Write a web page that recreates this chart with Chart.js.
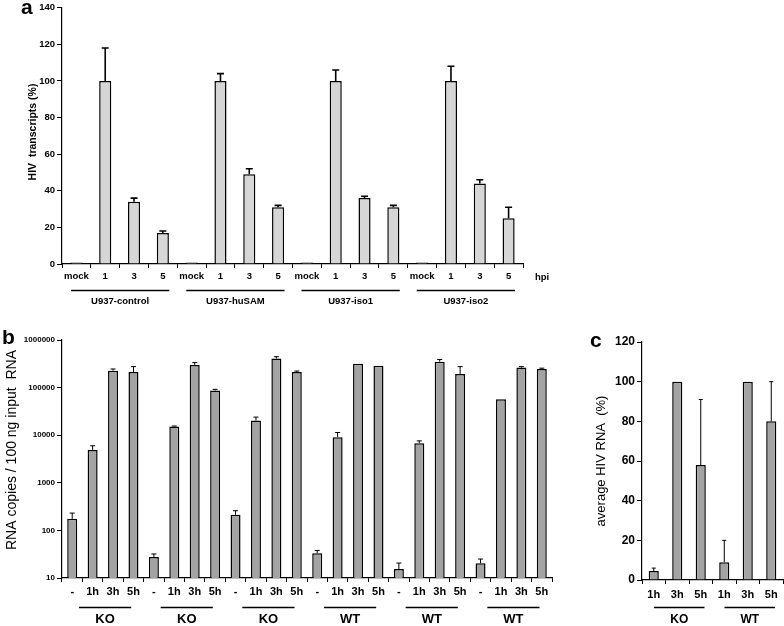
<!DOCTYPE html>
<html>
<head>
<meta charset="utf-8">
<script src="https://cdn.jsdelivr.net/npm/chart.js@4.4.0/dist/chart.umd.min.js"></script>
<style>
  body { margin: 0; background: #fff; width: 784px; height: 626px; overflow: hidden; position: relative; }
  canvas { position: absolute; }
</style>
</head>
<body>
<canvas id="chartA" width="600" height="320" style="left:0px;top:0px"></canvas>
<canvas id="chartB" width="590" height="296" style="left:0px;top:330px"></canvas>
<canvas id="chartC" width="194" height="296" style="left:590px;top:330px"></canvas>
<script>
// panel a - HIV transcripts (%)
const aLabels = ['mock', '1', '3', '5', 'mock', '1', '3', '5', 'mock', '1', '3', '5', 'mock', '1', '3', '5'];
const aGroups = ['U937-control', 'U937-huSAM', 'U937-iso1', 'U937-iso2'];
const aValues = [0.8, 100, 34, 17, 0.8, 100, 49, 31, 0.8, 100, 36, 31, 0.8, 100, 44, 25];
const aErrTop = [null, 118, 36, 18, null, 104, 52, 32, null, 106, 37, 32, null, 108, 46, 31];
const aTicks = [0, 20, 40, 60, 80, 100, 120, 140];

// panel b - RNA copies / 100 ng input RNA
const bLabels = ['-', '1h', '3h', '5h', '-', '1h', '3h', '5h', '-', '1h', '3h', '5h',
                 '-', '1h', '3h', '5h', '-', '1h', '3h', '5h', '-', '1h', '3h', '5h'];
const bGroups = ['KO', 'KO', 'KO', 'WT', 'WT', 'WT'];
const bValues = [176, 4900, 227000, 213000, 27.6, 15200, 300000, 87000, 213, 20300, 407000, 213000,
                 33, 9100, 318000, 289000, 15.4, 6800, 351000, 194000, 20.3, 56900, 263000, 246000];
const bErrTop = [231, 6000, 246000, 276000, 32, 15600, 335000, 92000, 259, 24000, 446000, 223000,
                 38, 11400, null, null, 20.6, 7600, 390000, 276000, 25, null, 276000, 256000];
const bTicks = [10, 100, 1000, 10000, 100000, 1000000];

// panel c - average HIV RNA (%)
const cLabels = ['1h', '3h', '5h', '1h', '3h', '5h'];
const cGroups = ['KO', 'WT'];
const cValues = [4.5, 100, 58, 9, 100, 80];
const cErrTop = [6, null, 91, 20, null, 100];
const cTicks = [0, 20, 40, 60, 80, 100, 120];

Chart.defaults.font.family = '"Liberation Sans", Arial, sans-serif';
Chart.defaults.color = '#000';
Chart.defaults.animation = false;

// error bars, group underlines, axis titles and panel letters
const decor = {
  id: 'decor',
  afterDatasetsDraw(chart, args, o) {
    const ctx = chart.ctx, xs = chart.scales.x, ys = chart.scales.y;
    const vals = chart.data.datasets[0].data;
    ctx.save();
    ctx.strokeStyle = '#000';
    ctx.lineWidth = o.errWidth;
    o.errors.forEach((e, i) => {
      if (e == null) return;
      const px = xs.getPixelForValue(i);
      const y0 = ys.getPixelForValue(vals[i]);
      const y1 = ys.getPixelForValue(e);
      ctx.beginPath();
      ctx.moveTo(px, y0);
      ctx.lineTo(px, y1);
      ctx.moveTo(px - o.cap, y1);
      ctx.lineTo(px + o.cap, y1);
      ctx.stroke();
    });
    ctx.restore();
  },
  afterDraw(chart, args, o) {
    const ctx = chart.ctx, xs = chart.scales.x;
    const n = chart.data.labels.length, w = xs.width / n;
    ctx.save();
    ctx.fillStyle = '#000';
    ctx.strokeStyle = '#000';
    ctx.lineWidth = 1.3;
    ctx.textAlign = 'center';
    ctx.textBaseline = 'middle';
    ctx.font = o.groupFont;
    o.groups.forEach((g, k) => {
      const l = xs.left + k * o.size * w + o.insetL;
      const r = xs.left + (k + 1) * o.size * w - o.insetR;
      ctx.beginPath();
      ctx.moveTo(l, o.lineY);
      ctx.lineTo(r, o.lineY);
      ctx.stroke();
      ctx.fillText(g, (l + r) / 2, o.textY);
    });
    // panel letter
    ctx.font = 'bold 21px "Liberation Sans", Arial, sans-serif';
    ctx.textAlign = 'left';
    ctx.textBaseline = 'alphabetic';
    ctx.fillText(o.letter[0], o.letter[1], o.letter[2]);
    // extra text (hpi)
    if (o.extra) {
      ctx.font = o.extra[3];
      ctx.textBaseline = 'middle';
      ctx.fillText(o.extra[0], o.extra[1], o.extra[2]);
    }
    // rotated y title
    ctx.translate(o.title[1], o.title[2]);
    ctx.rotate(-Math.PI / 2);
    ctx.font = o.title[3];
    ctx.textAlign = 'center';
    ctx.textBaseline = 'middle';
    ctx.fillText(o.title[0], 0, 0);
    ctx.restore();
  }
};

function axes(yOpts, tickFont, xFont, yWidth, xHeight, xPad) {
  return {
    x: {
      grid: { offset: true, drawOnChartArea: false, tickLength: 4, color: '#000', lineWidth: 1 },
      border: { color: '#000', width: 1.2 },
      ticks: { font: xFont, padding: xPad, maxRotation: 0, autoSkip: false },
      afterFit(s) { s.height = xHeight; }
    },
    y: Object.assign({
      grid: { drawOnChartArea: false, tickLength: 5, color: '#000', lineWidth: 1 },
      border: { color: '#000', width: 1.2 },
      afterFit(s) { s.width = yWidth; }
    }, yOpts, { ticks: Object.assign({ font: tickFont, padding: 2, autoSkip: false }, yOpts.ticks) })
  };
}

new Chart(document.getElementById('chartA'), {
  type: 'bar',
  data: {
    labels: aLabels,
    datasets: [{
      data: aValues,
      backgroundColor: '#d6d6d6',
      borderColor: '#000',
      borderWidth: 1.5,
      barPercentage: 0.42,
      categoryPercentage: 1
    }]
  },
  options: {
    responsive: false,
    layout: { autoPadding: false, padding: { left: 0, top: 5, right: 77, bottom: 0 } },
    plugins: {
      legend: { display: false },
      tooltip: { enabled: false },
      decor: {
        errors: aErrTop, errWidth: 1.6, cap: 3.5,
        groups: aGroups, size: 4, insetL: 9, insetR: 8, lineY: 290.5, textY: 301.5,
        groupFont: 'bold 9.5px "Liberation Sans", Arial, sans-serif',
        letter: ['a', 21, 14],
        extra: ['hpi', 535, 277, 'bold 9.5px "Liberation Sans", Arial, sans-serif'],
        title: ['HIV  transcripts (%)', 33, 132, 'bold 10.5px "Liberation Sans", Arial, sans-serif']
      }
    },
    scales: axes({
      min: 0, max: 140,
      afterBuildTicks(s) { s.ticks = aTicks.map(v => ({ value: v })); }
    }, { size: 9.5, weight: 'bold' }, { size: 9.5, weight: 'bold' }, 62, 56, 3)
  },
  plugins: [decor]
});

new Chart(document.getElementById('chartB'), {
  type: 'bar',
  data: {
    labels: bLabels,
    datasets: [{
      data: bValues,
      backgroundColor: '#a3a3a3',
      borderColor: '#000',
      borderWidth: 1.5,
      barPercentage: 0.49,
      categoryPercentage: 1
    }]
  },
  options: {
    responsive: false,
    layout: { autoPadding: false, padding: { left: 0, top: 10, right: 38, bottom: 0 } },
    plugins: {
      legend: { display: false },
      tooltip: { enabled: false },
      decor: {
        errors: bErrTop, errWidth: 1, cap: 2.5,
        groups: bGroups, size: 4, insetL: 17, insetR: 12.5, lineY: 277.5, textY: 289.5,
        groupFont: 'bold 13px "Liberation Sans", Arial, sans-serif',
        letter: ['b', 2, 14],
        title: ['RNA copies / 100 ng input  RNA', 12, 120, '14px "Liberation Sans", Arial, sans-serif']
      }
    },
    scales: axes({
      type: 'logarithmic', min: 10, max: 1000000,
      afterBuildTicks(s) { s.ticks = bTicks.map(v => ({ value: v })); },
      ticks: { callback: v => String(v) }
    }, { size: 8, weight: 'bold' }, { size: 11, weight: 'bold' }, 62, 48, 3)
  },
  plugins: [decor]
});

new Chart(document.getElementById('chartC'), {
  type: 'bar',
  data: {
    labels: cLabels,
    datasets: [{
      data: cValues,
      backgroundColor: '#a3a3a3',
      borderColor: '#000',
      borderWidth: 1.5,
      barPercentage: 0.43,
      categoryPercentage: 1
    }]
  },
  options: {
    responsive: false,
    layout: { autoPadding: false, padding: { left: 0, top: 12, right: 1, bottom: 0 } },
    plugins: {
      legend: { display: false },
      tooltip: { enabled: false },
      decor: {
        errors: cErrTop, errWidth: 1, cap: 2,
        groups: cGroups, size: 3, insetL: 12, insetR: 8, lineY: 277.5, textY: 289.5,
        groupFont: 'bold 12px "Liberation Sans", Arial, sans-serif',
        letter: ['c', 0, 17],
        title: ['average HIV RNA  (%)', 11, 131, '13px "Liberation Sans", Arial, sans-serif']
      }
    },
    scales: axes({
      min: 0, max: 120,
      afterBuildTicks(s) { s.ticks = cTicks.map(v => ({ value: v })); }
    }, { size: 12, weight: 'bold' }, { size: 11, weight: 'bold' }, 52, 46, 4)
  },
  plugins: [decor]
});
</script>
</body>
</html>
